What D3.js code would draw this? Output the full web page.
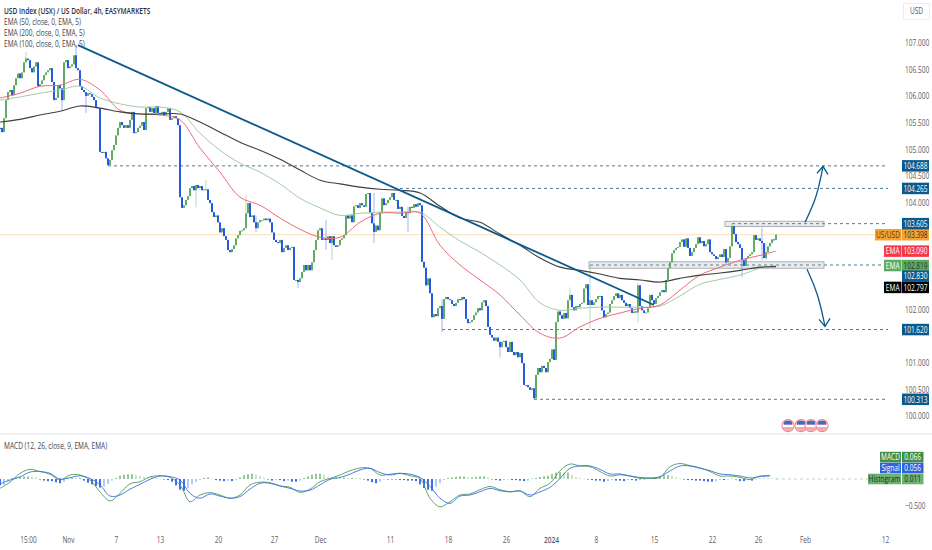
<!DOCTYPE html>
<html>
<head>
<meta charset="utf-8">
<script src="https://cdn.jsdelivr.net/npm/d3@7"></script>
<style>
  html, body { margin: 0; padding: 0; background: #fff; }
  text { font-family: "Open Sans", "Noto Sans", sans-serif; }
</style>
</head>
<body>
<svg id="chart" width="932" height="550"></svg>
<script>
// closing price of each 4h bar, first bar sits on the left edge
const closes = [
  105.40,105.32,105.58,105.92,106.07,106.11,106.01,106.20,106.33,106.42,
  106.33,106.44,106.63,106.70,106.67,106.52,106.44,106.55,106.63,106.18,
  106.22,106.29,106.39,106.44,106.48,106.52,106.26,105.92,105.96,106.20,
  106.14,105.92,106.63,106.67,106.52,106.55,106.59,106.76,106.52,106.48,
  106.18,106.11,106.07,106.00,106.05,106.03,105.98,105.92,105.79,105.77,
  104.95,104.93,104.95,104.83,104.70,104.80,104.98,105.08,105.26,105.40,
  105.51,105.45,105.40,105.45,105.40,105.55,105.70,105.30,105.32,105.40,
  105.44,105.51,105.36,105.77,105.79,105.70,105.77,105.68,105.81,105.68,
  105.66,105.70,105.64,105.70,105.77,105.55,105.58,105.62,105.58,105.45,
  104.10,103.90,103.95,104.05,104.12,104.27,104.31,104.23,104.33,104.27,
  104.31,104.23,104.25,104.25,104.05,103.99,103.82,103.73,103.76,103.63,
  103.44,103.52,103.37,103.30,103.11,103.07,103.13,103.20,103.33,103.39,
  103.47,103.48,103.52,103.80,103.99,103.73,103.76,103.63,103.52,103.63,
  103.67,103.67,103.70,103.67,103.70,103.63,103.44,103.30,103.26,103.24,
  103.30,103.07,103.15,103.20,103.11,103.15,103.17,102.55,102.55,102.51,
  102.58,102.70,102.83,102.73,102.83,102.73,102.88,103.11,103.30,103.48,
  103.52,103.30,103.33,103.30,103.37,103.24,103.37,103.20,103.17,103.20,
  103.30,103.33,103.39,103.76,103.70,103.76,103.63,103.93,103.95,103.90,
  103.99,103.95,103.92,104.16,104.18,103.80,103.61,103.45,103.57,103.48,
  103.82,104.08,103.95,103.99,104.05,104.10,104.18,104.05,104.05,103.88,
  103.92,103.75,103.71,103.82,103.80,103.92,103.90,103.97,103.92,103.99,
  103.95,102.89,102.78,102.45,102.58,102.30,101.85,101.91,101.87,102.02,
  102.06,101.82,102.19,102.23,102.19,102.17,102.10,102.06,102.12,102.19,
  102.17,102.23,102.19,101.82,101.74,101.76,101.80,101.89,101.94,102.02,
  101.98,102.13,102.17,102.06,101.67,101.52,101.47,101.41,101.47,101.39,
  101.29,101.39,101.41,101.29,101.20,101.39,101.20,101.14,101.20,101.10,
  101.18,100.99,100.58,100.58,100.54,100.49,100.52,100.33,100.77,100.90,
  100.82,100.94,100.90,100.82,101.01,101.07,101.25,101.05,101.76,101.96,
  101.89,101.82,101.93,101.83,102.17,102.27,102.04,101.98,102.06,102.04,
  102.10,102.12,102.39,102.47,102.08,102.17,102.08,102.13,102.19,102.25,
  102.25,101.98,101.85,101.91,101.94,102.10,102.17,102.25,102.30,102.21,
  102.27,102.17,102.12,102.06,102.10,102.02,101.93,101.96,101.94,102.45,
  102.06,101.98,101.93,101.94,102.02,102.27,102.17,102.10,102.21,102.25,
  102.32,102.36,102.32,102.55,102.77,102.88,103.05,103.11,103.15,103.17,
  103.26,103.31,103.17,103.33,103.15,103.00,103.07,103.15,103.22,103.35,
  103.24,103.28,103.18,103.22,103.31,103.07,103.03,103.00,102.94,102.98,
  103.03,102.98,103.13,102.88,102.96,103.18,103.56,103.41,103.26,103.22,
  103.15,102.92,102.81,102.96,103.00,103.03,103.07,103.39,103.30,103.33,
  103.28,103.24,102.96,103.07,103.18,103.24,103.31,103.30,103.398
];

// only the wicks long enough to read
const wickBars  = [13,31,38,43,98,103,123,128,149,163,166,187,204,213,221,250,285,295,319,363,366,371,377,381,383];
const wickHighs = [106.82,106.14,106.95,106.05,104.33,104.42,104.14,103.76,102.55,103.67,103.37,104.18,103.92,102.77,102.19,101.39,102.41,102.83,102.49,103.13,103.60,103.11,103.39,103.53,103.24];
const wickLows  = [106.63,105.73,106.52,105.68,103.91,104.23,103.80,103.45,102.40,103.11,102.92,103.24,103.45,102.43,101.57,101.10,102.27,101.64,101.76,102.85,103.41,102.60,103.07,102.92,102.92];

// EMAs, read every 10 bars (last one at the last bar)
const emaRed = [105.96,106.05,106.18,106.20,106.31,106.11,105.73,105.66,105.64,105.55,105.02,104.57,104.10,103.95,103.71,103.50,103.35,103.35,103.63,103.80,103.80,103.80,103.20,102.83,102.55,102.27,101.89,101.55,101.46,101.67,101.83,101.93,102.02,102.08,102.36,102.64,102.79,102.92,103.01,103.09];
const emaGreen = [105.92,105.98,106.05,106.11,106.18,105.96,105.85,105.79,105.79,105.70,105.30,104.98,104.74,104.57,104.35,104.08,103.90,103.76,103.80,103.82,103.82,103.82,103.54,103.28,103.07,102.83,102.55,102.12,101.98,102.02,102.04,102.04,102.04,102.06,102.25,102.47,102.56,102.64,102.77,102.82];
const emaDark = [105.51,105.56,105.64,105.71,105.81,105.77,105.70,105.66,105.66,105.66,105.51,105.32,105.13,104.98,104.81,104.61,104.42,104.35,104.29,104.25,104.23,104.18,103.93,103.71,103.63,103.41,103.20,102.96,102.79,102.73,102.66,102.58,102.55,102.51,102.58,102.64,102.68,102.73,102.79,102.80];

// MACD pane, lines read every 5 bars
const macdLine = [
  -.175,-.06,.106,.18,.14,.09,-.02,.075,.075,-.02,-.24,-.41,-.27,-.09,-.05,.04,.06,.03,-.11,-.425,
  -.30,-.256,-.30,-.36,-.30,-.11,-.06,-.07,-.13,-.155,-.25,-.19,-.05,.01,.075,.155,.206,.2,.075,.09,
  .106,.06,.01,-.36,-.52,-.425,-.30,-.28,-.2,-.14,-.2,-.24,-.225,-.33,-.175,-.08,.156,.28,.244,.23,
  .14,.056,.08,.056,.01,.01,.03,.23,.29,.25,.21,.14,.056,.056,.03,-.01,.056,.066
];
const signalLine = [
  -.09,-.02,.04,.13,.14,.106,0,.025,.06,.01,-.11,-.32,-.30,-.19,-.10,-.006,.056,.044,-.02,-.27,
  -.36,-.28,-.32,-.36,-.33,-.19,-.08,-.08,-.13,-.175,-.225,-.21,-.11,-.006,.03,.09,.17,.2,.12,.075,
  .106,.09,.03,-.14,-.36,-.456,-.32,-.3,-.24,-.175,-.22,-.24,-.225,-.3,-.24,-.156,.01,.2,.244,.244,
  .18,.094,.094,.056,.03,.02,.044,.15,.244,.244,.2,.156,.094,.08,.056,.02,.044,.056
];
// histogram, one bar out of two
const histogram = [
  -.12,-.11,-.05,.02,.03,.04,.05,.05,.04,.03,-.01,-.03,-.04,-.04,-.06,-.08,-.05,.02,.03,.02,
  .02,-.03,-.07,-.1,-.13,-.16,-.14,-.09,-.03,.02,.06,.08,.09,.09,.07,.06,.04,.03,.03,.02,
  .01,-.01,-.02,-.05,-.12,-.2,-.22,-.17,-.1,-.05,-.02,.02,.03,.01,-.02,-.03,-.04,-.03,-.04,-.02,
  .03,.07,.09,.1,.08,.05,.02,-.01,-.03,-.02,-.02,-.04,-.03,-.05,-.05,-.03,.02,.05,.08,.1,
  .1,.08,.04,.03,.03,.02,.03,.02,.02,.01,.01,-.01,-.03,-.06,-.08,-.05,-.01,-.01,-.01,-.01,
  -.02,-.02,-.03,-.03,-.04,-.1,-.17,-.2,-.22,-.14,-.08,-.02,.02,.03,.04,.05,.05,.03,.03,.04,
  .05,.05,.03,-.01,-.02,-.03,-.02,-.01,-.02,-.02,-.03,-.04,-.03,.01,.02,.04,.05,.06,.09,.12,
  .13,.12,.12,.08,.04,.02,.01,-.01,-.02,-.03,-.03,-.05,-.04,-.02,-.03,-.03,-.04,-.02,-.02,-.03,
  -.02,-.01,.01,.02,.03,.05,.07,.07,.06,.03,.01,-.01,-.02,-.02,-.03,-.03,-.04,-.05,-.05,-.04,
  -.02,-.02,-.01,.01,-.01,-.04,-.04,-.02,-.03,-.01,.01,.01,.01,.01,.011
];

// axes (103.500 and 102.500 sit fully behind tags in the picture)
const priceTicks = [107,106.5,106,105.5,105,104.5,104,102,101,100.5,100];
const macdTicks = [-0.5];
const timeBars = [14,34,58,80,109,137,160,195,224,253,275.5,298,327,356,379,402.5,442.5];
const timeLabels = ["15:00","Nov","7","13","20","27","Dec","11","18","26","2024","8","15","22","26","Feb","12"];

// drawings
const levelPrices = [104.688,104.265,103.605,102.83,101.62,100.313];
const levelStartBars = [54,200,366,295,221,267];
const zoneBars = [[362.5,412],[294.5,412]];
const zonePrices = [[103.65,103.55],[102.89,102.77]];
const trendBars = [39,327];
const trendPrices = [106.95,102.08];
const upArrowBars = [402.5,408.5,411.5];
const upArrowPrices = [103.63,104.1,104.68];
const downArrowBars = [403.5,409,412.5];
const downArrowPrices = [102.75,102.3,101.68];
const eventBars = [394,400.5,405.5,411];

// right side tags
const tagNames = ["US/USD","EMA","EMA","EMA"];
const tagTexts = ["103.398","103.090","102.819","102.797","104.688","104.265","103.605","102.830","101.620","100.313"];
const tagPrices = [103.398,103.09,102.82,102.41,104.688,104.265,103.605,102.62,101.62,100.313];
const tagFills = ["#f6a233","#f4394b","#5bab60","#000","#0b5a8c","#0b5a8c","#0b5a8c","#0b5a8c","#0b5a8c","#0b5a8c"];
const macdTagNames = ["MACD","Signal","Histogram"];
const macdTagTexts = ["0.066","0.056","0.011"];
const macdTagValues = [0.41,0.205,0];
const macdTagFills = ["#3f8f48","#2f62e0","#6db272"];

const legendRows = [
  "USD Index (USX) / US Dollar, 4h, EASYMARKETS",
  "EMA (50, close, 0, EMA, 5)",
  "EMA (200, close, 0, EMA, 5)",
  "EMA (100, close, 0, EMA, 5)"
];

const navy = "#0b5a8c";
const upColor = "#62ab66", downColor = "#2459e0";

const svg = d3.select("#chart");
const x = d3.scaleLinear().domain([0, 466]).range([0, 932]);
const y = d3.scaleLinear().domain([107, 100]).range([42.5, 416]);
const yMacd = d3.scaleLinear().domain([0, -0.5]).range([479, 505.7]);

// last price line
svg.append("line")
  .attr("x1", 0).attr("x2", x(444))
  .attr("y1", y(103.398)).attr("y2", y(103.398))
  .attr("stroke", "#fbe5c8").attr("stroke-width", 1.2);

// dashed levels
svg.append("g").selectAll("line")
  .data(levelPrices)
  .enter()
  .append("line")
  .attr("x1", (d, i) => x(levelStartBars[i]))
  .attr("x2", x(444))
  .attr("y1", d => y(d)).attr("y2", d => y(d))
  .attr("stroke", "#4f7c99")
  .attr("stroke-width", 1)
  .attr("stroke-dasharray", "3,3");

// zones
svg.append("g").selectAll("rect")
  .data(zoneBars)
  .enter()
  .append("rect")
  .attr("x", d => x(d[0]))
  .attr("width", d => x(d[1]) - x(d[0]))
  .attr("y", (d, i) => y(zonePrices[i][0]))
  .attr("height", (d, i) => y(zonePrices[i][1]) - y(zonePrices[i][0]))
  .attr("fill", "#8a8f99").attr("fill-opacity", 0.18)
  .attr("stroke", "#9a9ea6").attr("stroke-width", 0.8);

// candles
const isUp = i => i == 0 ? false : closes[i] >= closes[i - 1];
svg.append("g").selectAll("line")
  .data(wickBars)
  .enter()
  .append("line")
  .attr("x1", d => x(d)).attr("x2", d => x(d))
  .attr("y1", (d, i) => y(wickHighs[i]))
  .attr("y2", (d, i) => y(wickLows[i]))
  .attr("stroke", d => isUp(d) ? upColor : downColor)
  .attr("stroke-opacity", 0.45)
  .attr("stroke-width", 1);

svg.append("g").selectAll("rect")
  .data(closes)
  .enter()
  .append("rect")
  .attr("x", (d, i) => x(i) - 1)
  .attr("width", 2)
  .attr("y", (d, i) => y(Math.max(d, i ? closes[i - 1] : d)))
  .attr("height", (d, i) => Math.max(1, Math.abs(y(d) - y(i ? closes[i - 1] : d))))
  .attr("fill", (d, i) => isUp(i) ? upColor : downColor);

// EMA lines
const emaBar = i => Math.min(i * 10, 388);
const emaPath = d3.line()
  .x((d, i) => x(emaBar(i)))
  .y(d => y(d))
  .curve(d3.curveCatmullRom);
svg.append("path").attr("d", emaPath(emaGreen)).attr("fill", "none").attr("stroke", "#a3cba7").attr("stroke-width", 1);
svg.append("path").attr("d", emaPath(emaRed)).attr("fill", "none").attr("stroke", "#ef6b78").attr("stroke-width", 1);
svg.append("path").attr("d", emaPath(emaDark)).attr("fill", "none").attr("stroke", "#3f3f3f").attr("stroke-width", 1.1);

// trend line
svg.append("line")
  .attr("x1", x(trendBars[0])).attr("y1", y(trendPrices[0]))
  .attr("x2", x(trendBars[1])).attr("y2", y(trendPrices[1]))
  .attr("stroke", navy).attr("stroke-width", 1.8);

// scenario arrows
const arrowPath = d3.line().x(d => x(d[0])).y(d => y(d[1])).curve(d3.curveBasis);
function drawArrow(bars, prices, dir) {
  let pts = bars.map((b, i) => [b, prices[i]]);
  svg.append("path").attr("d", arrowPath(pts))
    .attr("fill", "none").attr("stroke", navy).attr("stroke-width", 1.3);
  let tip = pts[pts.length - 1];
  let tx = x(tip[0]), ty = y(tip[1]);
  svg.append("path")
    .attr("d", `M ${tx - 6} ${ty - dir * 7} L ${tx} ${ty} L ${tx + 5} ${ty - dir * 8}`)
    .attr("fill", "none").attr("stroke", navy).attr("stroke-width", 1.3);
}
drawArrow(upArrowBars, upArrowPrices, -1);
drawArrow(downArrowBars, downArrowPrices, 1);

// US flag event marks
const flagDefs = svg.append("defs").append("clipPath").attr("id", "flagClip");
flagDefs.append("circle").attr("r", 5.4);
const flags = svg.append("g").selectAll("g")
  .data(eventBars)
  .enter()
  .append("g")
  .attr("transform", d => `translate(${x(d)},${y(99.82)})`);
flags.append("circle").attr("r", 6).attr("fill", "#fff").attr("stroke", "#f2838c").attr("stroke-width", 1.2);
const inner = flags.append("g").attr("clip-path", "url(#flagClip)");
inner.append("rect").attr("x", -6).attr("y", -6).attr("width", 12).attr("height", 12).attr("fill", "#f7a7ad");
inner.append("rect").attr("x", -6).attr("y", -1).attr("width", 12).attr("height", 2.4).attr("fill", "#fff");
inner.append("rect").attr("x", -4).attr("y", -5).attr("width", 8).attr("height", 4).attr("fill", "#3f6fc4");

// pane separator
svg.append("line")
  .attr("x1", 0).attr("x2", 932).attr("y1", 434).attr("y2", 434)
  .attr("stroke", "#e0e3eb").attr("stroke-width", 1.2);

// MACD pane
svg.append("line")
  .attr("x1", x(388)).attr("x2", x(434))
  .attr("y1", yMacd(0)).attr("y2", yMacd(0))
  .attr("stroke", "#c9ccd2").attr("stroke-dasharray", "3,3");

const histColor = (d, i) => {
  let prev = i ? histogram[i - 1] : d;
  if (d >= 0) return d >= prev ? "#8cc391" : "#c3e0c5";
  return d <= prev ? "#2a62e6" : "#aac5f6";
};
svg.append("g").selectAll("rect")
  .data(histogram)
  .enter()
  .append("rect")
  .attr("x", (d, i) => x(i * 2) - 0.9)
  .attr("width", 1.8)
  .attr("y", d => Math.min(yMacd(d), yMacd(0)))
  .attr("height", d => Math.abs(yMacd(d) - yMacd(0)))
  .attr("fill", histColor);

const macdBar = i => Math.min(i * 5, 388);
const macdPath = d3.line()
  .x((d, i) => x(macdBar(i)))
  .y(d => yMacd(d))
  .curve(d3.curveCatmullRom);
svg.append("path").attr("d", macdPath(macdLine)).attr("fill", "none").attr("stroke", "#4f9a57").attr("stroke-width", 0.9);
svg.append("path").attr("d", macdPath(signalLine)).attr("fill", "none").attr("stroke", "#3b6fe0").attr("stroke-width", 0.9);

// right price axis
function styleAxis(g) {
  g.select(".domain").remove();
  g.selectAll("text").attr("fill", "#5a5d68").style("font-size", "9px");
}
svg.append("g")
  .attr("transform", "translate(905,0)")
  .call(d3.axisRight(y).tickValues(priceTicks).tickFormat(d3.format(".3f")).tickSize(0).tickPadding(0))
  .call(styleAxis);
svg.append("g")
  .attr("transform", "translate(905,0)")
  .call(d3.axisRight(yMacd).tickValues(macdTicks).tickFormat(d => d3.format(".3f")(d).replace("-", "\u2212")).tickSize(0).tickPadding(0))
  .call(styleAxis);

// time axis
svg.append("g")
  .attr("transform", "translate(0,537)")
  .call(d3.axisBottom(x).tickValues(timeBars).tickFormat((d, i) => timeLabels[i]).tickSize(0).tickPadding(0))
  .call(styleAxis)
  .selectAll("text")
  .style("font-weight", (d, i) => timeLabels[i] == "2024" ? 600 : 400);

// USD box
svg.append("rect")
  .attr("x", 903.5).attr("y", 3.5).attr("width", 26).attr("height", 16)
  .attr("fill", "#fff").attr("stroke", "#eceef2");
svg.append("text")
  .attr("x", 916.5).attr("y", 14.5)
  .attr("text-anchor", "middle").attr("fill", "#50535e").style("font-size", "9px")
  .text("USD");

// price tags
const tagH = 11.5;
const tags = svg.append("g").selectAll("g")
  .data(tagTexts)
  .enter()
  .append("g")
  .attr("transform", (d, i) => `translate(0,${y(tagPrices[i])})`);
tags.filter((d, i) => i < 4).append("rect")
  .attr("x", (d, i) => i == 0 ? 875 : 884)
  .attr("width", (d, i) => i == 0 ? 26.5 : 17.5)
  .attr("y", -tagH / 2).attr("height", tagH)
  .attr("fill", (d, i) => tagFills[i]);
tags.filter((d, i) => i < 4).append("text")
  .attr("x", (d, i) => i == 0 ? 888 : 892.7)
  .attr("y", 3.2).attr("text-anchor", "middle")
  .attr("fill", (d, i) => i == 0 ? "#5a3b10" : "#fff")
  .style("font-size", "9px")
  .text((d, i) => tagNames[i]);
tags.append("rect")
  .attr("x", 902).attr("width", 27)
  .attr("y", -tagH / 2).attr("height", tagH)
  .attr("fill", (d, i) => tagFills[i]);
tags.append("text")
  .attr("x", 915.5).attr("y", 3.2)
  .attr("text-anchor", "middle")
  .attr("fill", (d, i) => i == 0 || i == 2 ? "#2b2b2b" : "#fff")
  .style("font-size", "9px")
  .text(d => d);

// MACD tags
const macdTags = svg.append("g").selectAll("g")
  .data(macdTagTexts)
  .enter()
  .append("g")
  .attr("transform", (d, i) => `translate(0,${yMacd(macdTagValues[i])})`);
macdTags.append("rect")
  .attr("x", (d, i) => i == 2 ? 868 : 880)
  .attr("width", (d, i) => i == 2 ? 33 : 21)
  .attr("y", -5.3).attr("height", 10.6)
  .attr("fill", (d, i) => macdTagFills[i]);
macdTags.append("rect")
  .attr("x", 902).attr("width", 21.5)
  .attr("y", -5.3).attr("height", 10.6)
  .attr("fill", (d, i) => macdTagFills[i]);
macdTags.append("text")
  .attr("x", (d, i) => i == 2 ? 884.5 : 890.5).attr("y", 3)
  .attr("text-anchor", "middle")
  .attr("fill", (d, i) => i == 2 ? "#222" : "#fff")
  .style("font-size", "9px")
  .text((d, i) => macdTagNames[i]);
macdTags.append("text")
  .attr("x", 912.7).attr("y", 3)
  .attr("text-anchor", "middle")
  .attr("fill", (d, i) => i == 2 ? "#222" : "#fff")
  .style("font-size", "9px")
  .text(d => d);

// legends
svg.append("g").selectAll("text")
  .data(legendRows)
  .enter()
  .append("text")
  .attr("x", 4)
  .attr("y", (d, i) => 14 + i * 11)
  .attr("fill", (d, i) => i == 0 ? "#2a2e39" : "#42454f")
  .style("font-size", "9px")
  .style("font-weight", (d, i) => i == 0 ? 600 : 400)
  .text(d => d);
svg.append("text")
  .attr("x", 4).attr("y", 449)
  .attr("fill", "#42454f")
  .style("font-size", "9px")
  .text("MACD (12, 26, close, 9, EMA, EMA)");

// the reference's text is squeezed sideways, so scale around each text's anchor
svg.selectAll("text").each(function() {
  const ax = parseFloat(this.getAttribute("x")) || 0;
  this.setAttribute("transform", `translate(${ax},0) scale(0.73,1) translate(${-ax},0)`);
});
</script>
</body>
</html>
